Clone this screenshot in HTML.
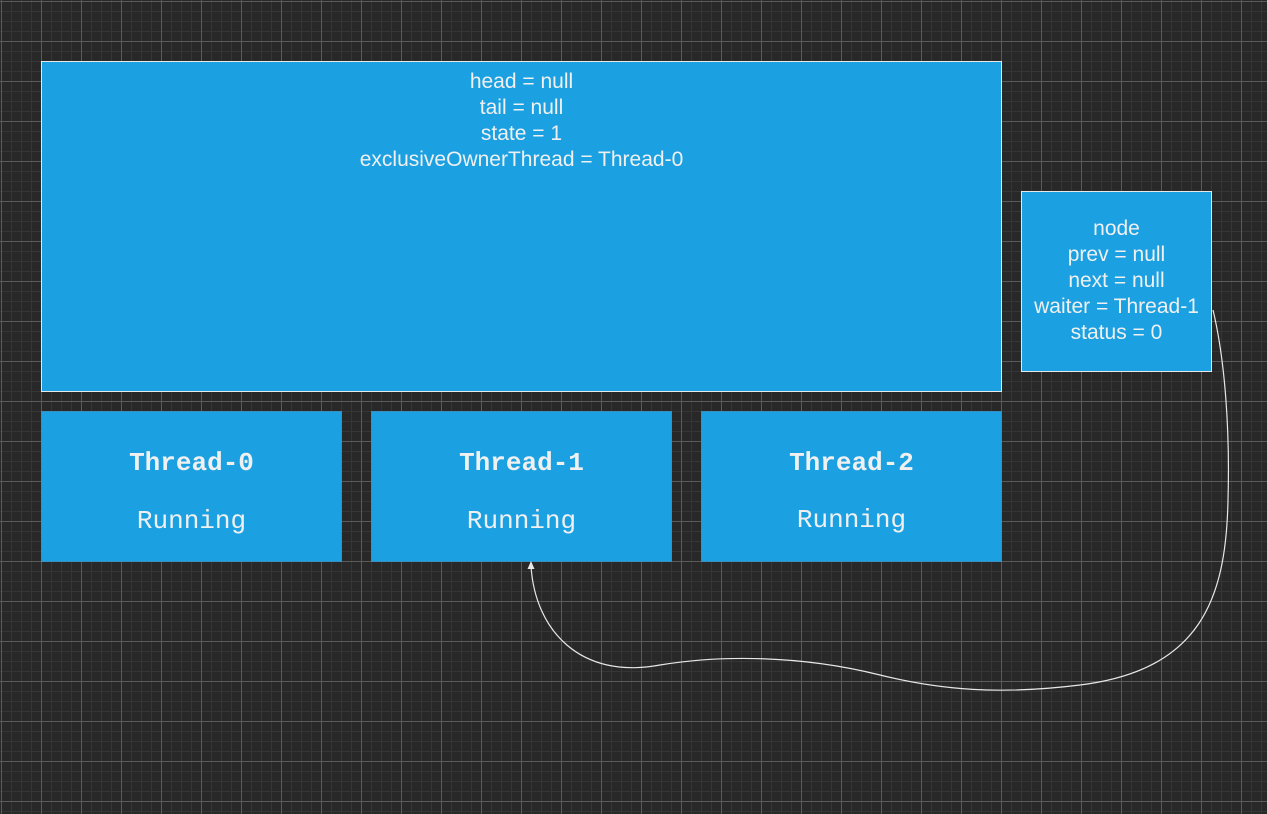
<!DOCTYPE html>
<html><head><style>
body{margin:0;width:1267px;height:814px;overflow:hidden;background-color:#282828;
background-image:linear-gradient(#5a5a5a 1px,transparent 1px),linear-gradient(90deg,#5a5a5a 1px,transparent 1px),linear-gradient(#363636 1px,transparent 1px),linear-gradient(90deg,#363636 1px,transparent 1px);
background-size:40px 40px,40px 40px,10px 10px,10px 10px;background-position:1px 1px,1px 1px,1px 1px,1px 1px;position:relative;font-family:"Liberation Sans",sans-serif;}
.b{position:absolute;background:#1ba1e2;box-sizing:border-box;color:#f0f0f0;text-align:center}
.t{font-size:21px;line-height:26px}
.th{font-family:"Liberation Mono",monospace;font-size:26px}
</style></head><body>
<div class="b t" style="left:41px;top:61px;width:961px;height:331px;border:1px solid #e8e8e8;padding-top:7px">head = null<br>tail = null<br>state = 1<br>exclusiveOwnerThread = Thread-0</div>
<div class="b t" style="left:1021px;top:191px;width:191px;height:181px;border:1px solid #e8e8e8;padding-top:24px">node<br>prev = null<br>next = null<br>waiter = Thread-1<br>status = 0</div>
<div class="b th" style="left:41px;top:411px;width:301px;height:151px;border:1px solid #3a8fc0"><div style="margin-top:36px;font-weight:bold">Thread-0</div><div style="margin-top:28px">Running</div></div>
<div class="b th" style="left:371px;top:411px;width:301px;height:151px;border:1px solid #3a8fc0"><div style="margin-top:36px;font-weight:bold">Thread-1</div><div style="margin-top:28px">Running</div></div>
<div class="b th" style="left:701px;top:411px;width:301px;height:151px;border:1px solid #3a8fc0"><div style="margin-top:36px;font-weight:bold">Thread-2</div><div style="margin-top:27px">Running</div></div>
<svg style="position:absolute;left:0;top:0" width="1267" height="814">
<path d="M1213 310 C1225 360 1230 430 1228 500 C1226 600 1200 670 1080 685 C1000 695 940 690 880 675 C800 655 720 655 660 665 C580 680 535 630 531 566" fill="none" stroke="#e8e8e8" stroke-width="1.2"/>
<path d="M531 561 L527.5 569 L534.5 569 Z" fill="#e8e8e8"/>
</svg>
</body></html>
